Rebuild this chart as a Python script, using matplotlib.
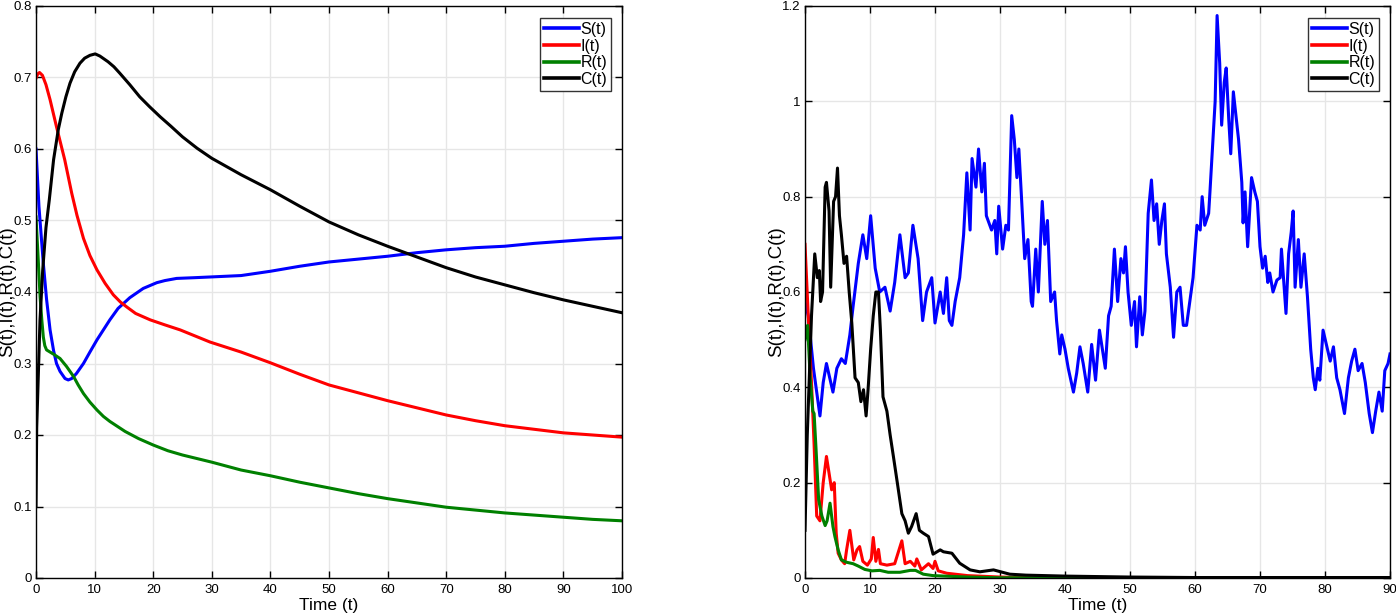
import numpy as np
import matplotlib
matplotlib.use('Agg')
import matplotlib.pyplot as plt
from matplotlib.ticker import FuncFormatter, MultipleLocator

plt.rcParams['font.family'] = ['Liberation Sans', 'DejaVu Sans']

# ---------------- Left panel (deterministic) ----------------
L_S_t = [0, 0.5, 1.25, 1.8, 2.4, 3.0, 3.5, 4.1, 4.95, 5.5, 6.1, 6.9, 8.1, 9.2, 10.4, 11.5, 12.6, 14, 16, 18.3, 20.6,
         22, 24, 27, 29.7, 35, 40, 45, 50, 55, 60, 65, 70, 75, 80, 85, 90, 95, 100]
L_S_v = [0.60, 0.52, 0.44, 0.39, 0.347, 0.318, 0.30, 0.289, 0.279, 0.277, 0.279, 0.286, 0.30, 0.316, 0.333, 0.347,
         0.361, 0.377, 0.392, 0.405, 0.413, 0.416, 0.419, 0.420, 0.421, 0.423, 0.429, 0.436, 0.442, 0.446, 0.450,
         0.455, 0.459, 0.462, 0.464, 0.468, 0.471, 0.474, 0.476]

L_I_t = [0, 0.3, 0.6, 1.1, 1.7, 2.4, 3.5, 4.9, 6.1, 7.0, 8.1, 9.2, 10.4, 11.8, 13.2, 14.4, 15.5, 17, 19.5, 22, 24.6,
         27, 29.7, 35, 40, 45, 50, 55, 60, 65, 70, 75, 80, 85, 90, 95, 100]
L_I_v = [0.699, 0.705, 0.707, 0.703, 0.69, 0.669, 0.631, 0.585, 0.538, 0.507, 0.475, 0.451, 0.431, 0.412, 0.396,
         0.386, 0.379, 0.37, 0.361, 0.354, 0.347, 0.339, 0.33, 0.316, 0.301, 0.285, 0.27, 0.259, 0.248, 0.238, 0.228,
         0.22, 0.213, 0.208, 0.203, 0.2, 0.197]

L_R_t = [0, 0.35, 0.7, 1.0, 1.25, 1.5, 1.8, 2.4, 3.0, 4.1, 5.2, 6.4, 7.2, 8.1, 9.2, 10.4, 11.5, 12.6, 13.9, 15.2,
         17.5, 20, 22.5, 25, 27.5, 30, 35, 40, 45, 50, 55, 60, 65, 70, 75, 80, 85, 90, 95, 100]
L_R_v = [0.505, 0.45, 0.393, 0.36, 0.337, 0.325, 0.319, 0.316, 0.313, 0.307, 0.296, 0.282, 0.27, 0.258, 0.246, 0.235,
         0.226, 0.219, 0.212, 0.205, 0.195, 0.186, 0.178, 0.172, 0.167, 0.162, 0.151, 0.143, 0.134, 0.126, 0.118,
         0.111, 0.105, 0.099, 0.095, 0.091, 0.088, 0.085, 0.082, 0.080]

L_C_t = [0, 0.12, 0.68, 1.14, 1.7, 2.27, 3.0, 3.8, 4.4, 5.1, 5.8, 6.6, 7.5, 8.3, 9.2, 10.1, 10.9, 11.6, 12.3, 13.3,
         14.3, 16, 17.7, 19.4, 21.2, 23, 25, 27.5, 30, 35, 40, 45, 50, 55, 60, 65, 70, 75, 80, 85, 90, 95, 100]
L_C_v = [0.10, 0.21, 0.36, 0.43, 0.49, 0.529, 0.585, 0.627, 0.650, 0.673, 0.692, 0.708, 0.72, 0.727, 0.731, 0.733,
         0.730, 0.726, 0.722, 0.715, 0.706, 0.690, 0.673, 0.659, 0.645, 0.632, 0.617, 0.601, 0.587, 0.564, 0.543,
         0.520, 0.498, 0.480, 0.464, 0.449, 0.434, 0.421, 0.41, 0.399, 0.389, 0.380, 0.371]

# ---------------- Right panel (stochastic) ----------------
R_S_t = [0, 0.5, 1.3, 2.3, 2.8, 3.3, 4.3, 4.9, 5.6, 6.2, 6.9, 7.4, 8.2, 8.9, 9.5, 10.1, 10.8, 11.5, 12.3, 13.1,
         13.8, 14.6, 15.4, 15.9, 16.6, 17.4, 18.1, 18.7, 19.5, 20.0, 20.8, 21.3, 21.8, 22.2, 22.6, 23.1, 23.8, 24.4,
         24.9, 25.4, 25.7, 26.3, 26.7, 27.2, 27.6, 27.9, 28.7, 29.2, 29.5, 29.8, 30.4, 30.9, 31.3, 31.8, 32.2, 32.6,
         32.9, 33.3, 33.8, 34.3, 34.8, 35.0, 35.5, 35.9, 36.5, 36.9, 37.3, 37.8, 38.4, 38.7, 39.2, 39.5, 40.0, 40.5,
         41.3, 41.8, 42.3, 42.8, 43.5, 44.1, 44.7, 45.3, 46.2, 46.7, 47.1, 47.6, 48.1, 48.6, 49.0, 49.3, 49.7, 50.2,
         50.7, 51.0, 51.5, 51.9, 52.3, 52.8, 53.3, 53.7, 54.1, 54.5, 54.9, 55.3, 55.6, 56.2, 56.7, 57.2, 57.7, 58.2,
         58.7, 59.2, 59.7, 60.3, 60.8, 61.1, 61.5, 62.1, 62.3, 62.7, 63.1, 63.4, 63.8, 64.1, 64.5, 64.8, 65.2, 65.5,
         65.9, 66.3, 66.7, 67.2, 67.4, 67.7, 68.1, 68.7, 69.2, 69.6, 70.0, 70.4, 70.8, 71.2, 71.5, 72.0, 72.6, 73.1,
         73.3, 74.0, 74.4, 74.8, 75.1, 75.4, 75.9, 76.3, 76.8, 77.3, 77.8, 78.2, 78.5, 78.9, 79.2, 79.7, 80.3, 80.8,
         81.3, 81.8, 82.3, 83.0, 83.6, 84.1, 84.6, 85.1, 85.7, 86.2, 86.8, 87.3, 87.8, 88.3, 88.8, 89.2, 89.7, 90.0]
R_S_v = [0.58, 0.55, 0.44, 0.34, 0.41, 0.45, 0.39, 0.44, 0.46, 0.45, 0.51, 0.57, 0.66, 0.72, 0.67, 0.76, 0.65, 0.60, 0.61, 0.56,
         0.62, 0.72, 0.63, 0.64, 0.74, 0.67, 0.54, 0.60, 0.63, 0.535, 0.60, 0.555, 0.63, 0.54, 0.53, 0.58, 0.63, 0.72,
         0.85, 0.73, 0.88, 0.82, 0.90, 0.81, 0.87, 0.76, 0.73, 0.75, 0.68, 0.78, 0.69, 0.74, 0.73, 0.97, 0.92, 0.84,
         0.90, 0.80, 0.67, 0.71, 0.58, 0.57, 0.69, 0.60, 0.79, 0.70, 0.75, 0.58, 0.60, 0.54, 0.47, 0.51, 0.48, 0.44,
         0.39, 0.43, 0.485, 0.45, 0.39, 0.49, 0.415, 0.52, 0.44, 0.55, 0.57, 0.69, 0.58, 0.67, 0.64, 0.695, 0.60, 0.53,
         0.58, 0.485, 0.59, 0.51, 0.56, 0.765, 0.835, 0.75, 0.785, 0.70, 0.75, 0.785, 0.68, 0.61, 0.505, 0.60, 0.61, 0.53,
         0.53, 0.58, 0.63, 0.74, 0.73, 0.80, 0.74, 0.765, 0.81, 0.905, 1.0, 1.18, 1.08, 0.95, 1.04, 1.07, 0.96, 0.89,
         1.02, 0.97, 0.92, 0.83, 0.745, 0.81, 0.695, 0.84, 0.81, 0.79, 0.695, 0.65, 0.675, 0.62, 0.64, 0.60, 0.625, 0.63,
         0.69, 0.555, 0.68, 0.725, 0.77, 0.61, 0.71, 0.61, 0.68, 0.59, 0.48, 0.42, 0.395, 0.44, 0.415, 0.52, 0.485, 0.455,
         0.485, 0.42, 0.395, 0.345, 0.42, 0.455, 0.48, 0.435, 0.45, 0.41, 0.345, 0.305, 0.35, 0.39, 0.35, 0.435, 0.45, 0.47]

R_I_t = [0, 0.5, 1.0, 1.4, 1.8, 2.3, 2.8, 3.3, 3.7, 4.1, 4.5, 4.8, 5.1, 5.6, 6.1, 6.4, 6.9, 7.5, 8.0, 8.4, 8.9, 9.6,
         10.2, 10.5, 10.9, 11.3, 11.6, 12.6, 13.8, 14.9, 15.4, 16.2, 16.9, 17.2, 17.9, 19.0, 19.7, 20.0, 20.5, 21.8,
         25, 30, 35, 90]
R_I_v = [0.70, 0.55, 0.41, 0.28, 0.13, 0.12, 0.20, 0.255, 0.22, 0.185, 0.20, 0.094, 0.052, 0.038, 0.03, 0.059, 0.10, 0.038,
         0.059, 0.066, 0.035, 0.027, 0.04, 0.085, 0.035, 0.06, 0.03, 0.027, 0.03, 0.078, 0.03, 0.035, 0.025, 0.04, 0.017,
         0.03, 0.02, 0.035, 0.015, 0.01, 0.005, 0.002, 0.0005, 0.0]

R_R_t = [0, 0.4, 0.8, 1.2, 1.4, 1.7, 2.1, 2.6, 3.1, 3.4, 3.85, 4.3, 4.6, 5.1, 5.6, 6.4, 7.4, 8.2, 9.2, 10.3, 11.5,
         12.8, 14.6, 16.2, 17.0, 18.2, 19.7, 25, 30, 90]
R_R_v = [0.50, 0.53, 0.42, 0.35, 0.345, 0.27, 0.164, 0.13, 0.11, 0.12, 0.157, 0.108, 0.087, 0.059, 0.038, 0.033, 0.03,
         0.025, 0.018, 0.015, 0.016, 0.012, 0.012, 0.016, 0.016, 0.008, 0.005, 0.002, 0.0005, 0.0]

R_C_t = [0, 0.35, 1.0, 1.5, 1.9, 2.2, 2.4, 2.7, 3.1, 3.3, 3.7, 3.95, 4.4, 4.7, 5.0, 5.3, 5.6, 6.0, 6.4, 6.8, 7.2,
         7.7, 8.2, 8.6, 9.0, 9.4, 9.7, 10.1, 10.5, 10.9, 11.3, 11.6, 12.0, 12.6, 13.1, 13.6, 14.2, 14.9, 15.4, 15.9,
         16.4, 17.1, 17.6, 18.2, 19.0, 19.7, 20.8, 21.3, 22.6, 23.8, 25.4, 26.9, 29.0, 31.5, 34, 40, 50, 60, 70, 80, 90]
R_C_v = [0.10, 0.30, 0.55, 0.68, 0.63, 0.645, 0.58, 0.60, 0.82, 0.83, 0.77, 0.61, 0.79, 0.80, 0.86, 0.76, 0.72, 0.66,
         0.675, 0.60, 0.535, 0.42, 0.41, 0.37, 0.395, 0.34, 0.395, 0.48, 0.55, 0.60, 0.60, 0.52, 0.38, 0.35, 0.30, 0.255,
         0.20, 0.135, 0.12, 0.094, 0.108, 0.135, 0.10, 0.094, 0.087, 0.05, 0.059, 0.055, 0.052, 0.031, 0.017, 0.013,
         0.017, 0.008, 0.006, 0.004, 0.002, 0.001, 0.001, 0.001, 0.001]

labels = ['S(t)', 'I(t)', 'R(t)', 'C(t)']
colors = ['#0000ff', '#ff0000', '#008000', '#000000']

W, H = 1396, 614
fig = plt.figure(figsize=(W / 100, H / 100), dpi=100)
ax1 = fig.add_axes([36 / W, 1 - 578 / H, 586 / W, 572 / H])
ax2 = fig.add_axes([805 / W, 1 - 578 / H, 585 / W, 572 / H])


def style(ax, xmax, xstep, ymax, ystep, ax_w):
    ax.set_xlim(0, xmax)
    ax.set_ylim(0, ymax)
    ax.xaxis.set_major_locator(MultipleLocator(xstep))
    ax.yaxis.set_major_locator(MultipleLocator(ystep))
    ax.yaxis.set_major_formatter(FuncFormatter(lambda v, p: f'{round(v, 3):g}'))
    ax.grid(True, color='#e6e6e6', lw=1.0)
    ax.set_axisbelow(True)
    ax.tick_params(direction='in', top=True, right=True, length=5, width=1,
                   labelsize=9.5, pad=3, colors='black')
    ax.tick_params(axis='x', pad=4)
    for s in ax.spines.values():
        s.set_linewidth(1.0)
        s.set_color('black')
    ax.set_xlabel('Time (t)', fontsize=12.5)
    ax.set_ylabel('S(t),I(t),R(t),C(t)', fontsize=13.5)
    ax.xaxis.set_label_coords(0.5, -20 / 572)
    ax.yaxis.set_label_coords(-20 / ax_w, 0.5)
    leg = ax.legend(loc='upper right', bbox_to_anchor=(1 - 11 / ax_w, 1 - 12 / 572),
                    borderaxespad=0, fontsize=11.5, handlelength=2.2, handletextpad=0.1,
                    labelspacing=0.1, borderpad=0.25, fancybox=False, framealpha=1,
                    edgecolor='#333333')
    leg.get_frame().set_linewidth(1.0)
    for ln in leg.get_lines():
        ln.set_linewidth(2.6)


for t, v, lab, c in zip([L_S_t, L_I_t, L_R_t, L_C_t], [L_S_v, L_I_v, L_R_v, L_C_v], labels, colors):
    ax1.plot(t, v, color=c, lw=2.2, label=lab)
style(ax1, 100, 10, 0.8, 0.1, 586)

for t, v, lab, c in zip([R_S_t, R_I_t, R_R_t, R_C_t], [R_S_v, R_I_v, R_R_v, R_C_v], labels, colors):
    ax2.plot(t, v, color=c, lw=2.2, label=lab)
style(ax2, 90, 10, 1.2, 0.2, 585)

fig.savefig('out.png', dpi=100)
